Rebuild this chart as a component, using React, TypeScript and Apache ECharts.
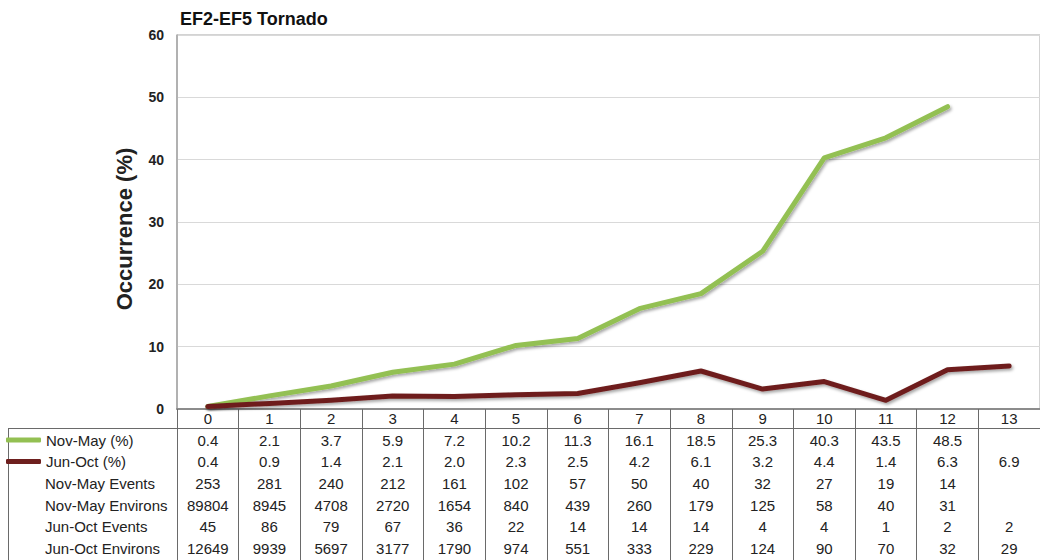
import React, { useEffect, useRef } from "react";
import * as echarts from "echarts";

const categories = ["0", "1", "2", "3", "4", "5", "6", "7", "8", "9", "10", "11", "12", "13"];
const novMayPct = [0.4, 2.1, 3.7, 5.9, 7.2, 10.2, 11.3, 16.1, 18.5, 25.3, 40.3, 43.5, 48.5, null];
const junOctPct = [0.4, 0.9, 1.4, 2.1, 2.0, 2.3, 2.5, 4.2, 6.1, 3.2, 4.4, 1.4, 6.3, 6.9];
const novMayPctText = ["0.4", "2.1", "3.7", "5.9", "7.2", "10.2", "11.3", "16.1", "18.5", "25.3", "40.3", "43.5", "48.5", ""];
const junOctPctText = ["0.4", "0.9", "1.4", "2.1", "2.0", "2.3", "2.5", "4.2", "6.1", "3.2", "4.4", "1.4", "6.3", "6.9"];
const novMayEvents = ["253", "281", "240", "212", "161", "102", "57", "50", "40", "32", "27", "19", "14", ""];
const novMayEnvirons = ["89804", "8945", "4708", "2720", "1654", "840", "439", "260", "179", "125", "58", "40", "31", ""];
const junOctEvents = ["45", "86", "79", "67", "36", "22", "14", "14", "14", "4", "4", "1", "2", "2"];
const junOctEnvirons = ["12649", "9939", "5697", "3177", "1790", "974", "551", "333", "229", "124", "90", "70", "32", "29"];
const rowNames = ["Nov-May (%)", "Jun-Oct (%)", "Nov-May Events", "Nov-May Environs", "Jun-Oct Events", "Jun-Oct Environs"];
const yTicks = { min: 0, max: 60, interval: 10 };

const FONT = "'Liberation Sans', Arial, sans-serif";
const GREEN = "#93c052";
const BROWN = "#6e1f1e";
const TFS = 15;

export default function App() {
  const ref = useRef<HTMLDivElement>(null);
  useEffect(() => {
    if (!ref.current) return;
    const chart = echarts.init(ref.current, undefined, { renderer: "svg" });
    const gridLeft = 177;
    const gridTop = 35;
    const gridBottomY = 409;
    const rowCenters = [441, 462.5, 484, 506, 527.5, 549];
    const tableRows = [novMayPctText, junOctPctText, novMayEvents, novMayEnvirons, junOctEvents, junOctEnvirons];

    const rowAxes = tableRows.map((row, i) => ({
      type: "category",
      gridIndex: 0,
      position: "bottom",
      data: row,
      offset: rowCenters[i] - 8.5 - gridBottomY,
      axisLine: { show: false },
      axisTick: { show: false },
      splitLine: { show: false },
      axisLabel: { interval: 0, margin: 0, fontSize: TFS, color: "#222", fontFamily: FONT, hideOverlap: false },
    }));

    const shadow = { shadowColor: "rgba(0,0,0,0.35)", shadowBlur: 3, shadowOffsetX: 1.5, shadowOffsetY: 2 };

    chart.setOption({
      animation: false,
      backgroundColor: "#ffffff",
      title: {
        text: "EF2-EF5 Tornado",
        left: 180,
        top: 10,
        padding: 0,
        textStyle: { fontSize: 18, fontWeight: "bold", color: "#111", fontFamily: FONT },
      },
      legend: [
        {
          data: [rowNames[0]],
          left: 6,
          top: rowCenters[0] - 8.5,
          padding: 0,
          icon: "roundRect",
          itemWidth: 35,
          itemHeight: 5,
          textStyle: { fontSize: TFS, color: "#222", fontFamily: FONT },
        },
        {
          data: [rowNames[1]],
          left: 6,
          top: rowCenters[1] - 8.5,
          padding: 0,
          icon: "roundRect",
          itemWidth: 35,
          itemHeight: 5,
          textStyle: { fontSize: TFS, color: "#222", fontFamily: FONT },
        },
      ],
      grid: {
        left: gridLeft,
        top: gridTop,
        width: 875,
        height: gridBottomY - gridTop,
        show: true,
        borderColor: "#a6a6a6",
        borderWidth: 1,
        backgroundColor: "transparent",
      },
      xAxis: [
        {
          type: "category",
          gridIndex: 0,
          position: "bottom",
          data: categories,
          boundaryGap: true,
          axisLine: { show: true, lineStyle: { color: "#8c8c8c", width: 2 } },
          axisTick: { show: true, interval: 0, length: 152, lineStyle: { color: "#6a6a6a", width: 1 } },
          splitLine: { show: false },
          axisLabel: { interval: 0, margin: 2, fontSize: TFS, color: "#222", fontFamily: FONT },
        },
        ...rowAxes,
      ],
      yAxis: {
        type: "value",
        min: yTicks.min,
        max: yTicks.max,
        interval: yTicks.interval,
        name: "Occurrence (%)",
        nameLocation: "middle",
        nameGap: 42,
        nameTextStyle: { fontSize: 22, fontWeight: "bold", color: "#222", fontFamily: FONT, padding: [0, 14, 0, 0] },
        axisLine: { show: true, lineStyle: { color: "#a6a6a6", width: 1.5 } },
        axisTick: { show: false },
        splitLine: { show: true, lineStyle: { color: "#d9d9d9", width: 1 } },
        axisLabel: { margin: 13, fontSize: 14, fontWeight: "bold", color: "#222", fontFamily: FONT },
      },
      series: [
        {
          name: rowNames[0],
          type: "line",
          data: novMayPct,
          xAxisIndex: 0,
          symbol: "none",
          color: GREEN,
          lineStyle: { color: GREEN, width: 5, cap: "round", join: "round", ...shadow },
        },
        {
          name: rowNames[1],
          type: "line",
          data: junOctPct,
          xAxisIndex: 0,
          symbol: "none",
          color: BROWN,
          lineStyle: { color: BROWN, width: 5, cap: "round", join: "round", ...shadow },
        },
      ],
      graphic: [
        { type: "line", shape: { x1: 8, y1: 428.5, x2: 1040, y2: 428.5 }, style: { stroke: "#6a6a6a", lineWidth: 1 } },
        { type: "line", shape: { x1: 8.5, y1: 428, x2: 8.5, y2: 560 }, style: { stroke: "#6a6a6a", lineWidth: 1 } },
        ...rowNames.slice(2).map((name, i) => ({
          type: "text",
          left: 45,
          top: rowCenters[i + 2] - 8.5,
          style: { text: name, fontSize: TFS, fill: "#222", fontFamily: FONT },
        })),
      ],
    });
    return () => chart.dispose();
  }, []);
  return <div ref={ref} style={{ position: "fixed", left: 0, top: 0, width: 1040, height: 560 }} />;
}
